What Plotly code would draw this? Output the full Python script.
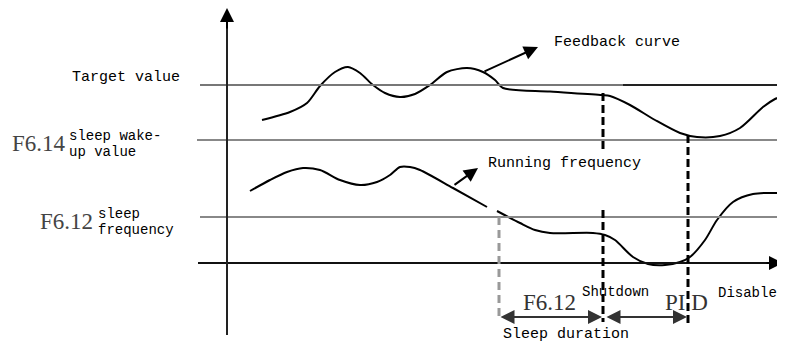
import plotly.graph_objects as go

# -------------------- dados (coordenadas do esquema, y cresce para baixo) --------------------
feedback_t = [262, 290, 307, 320, 335, 348, 360, 373, 385, 400, 415, 430, 447, 467, 483, 495, 503,
              550, 602, 610, 630, 655, 680, 697, 720, 740, 763, 775, 785]
feedback_v = [120, 112, 103, 86, 72, 67, 73, 85, 93, 97, 94, 85, 72, 68, 72, 80, 88,
              91.5, 95, 96, 105, 120, 133, 137, 136, 128, 107, 99, 95]

running_t = [250, 270, 287, 303, 320, 340, 360, 377, 390, 400, 410, 420, 453, 487, None,
             497, 520, 535, 550, 593, 605, 615, 633, 648, 665, 680, 690, 705, 717, 733, 753, 782]
running_v = [191, 180, 172, 168, 170, 180, 185, 182, 175, 167, 167, 170, 188, 207, None,
             211, 223, 230, 233, 233, 235, 240, 257, 264, 265, 262, 257, 240, 220, 202, 194, 193]

# níveis horizontais: alvo, despertar, frequência de sono, eixo do tempo
level_names = ['target', 'wake', 'sleep', 'axis']
level_y = [85, 140, 217, 263]
level_x0 = [200, 197, 200, 198]
level_x1 = [783, 780, 782, 770]

# instantes marcados: início do sono, desligamento, PID desabilitado
event_t = [499, 603, 688]

fig = go.Figure()

# linhas de nível
cores_nivel = ['#777777', '#888888', '#888888', '#111111']
for x0, x1, y, c in zip(level_x0, level_x1, level_y, cores_nivel):
    fig.add_shape(type='line', x0=x0, x1=x1, y0=y, y1=y, line=dict(color=c, width=2))
# parte direita do alvo mais escura
fig.add_shape(type='line', x0=623, x1=level_x1[0], y0=level_y[0], y1=level_y[0],
              line=dict(color='#222222', width=2))

# eixo vertical
fig.add_shape(type='line', x0=227, x1=227, y0=20, y1=335, line=dict(color='#222222', width=2))

# curvas
fig.add_trace(go.Scatter(x=feedback_t, y=feedback_v, mode='lines',
                         line=dict(color='black', width=2, shape='spline', smoothing=0.8),
                         hoverinfo='skip'))
fig.add_trace(go.Scatter(x=running_t, y=running_v, mode='lines',
                         line=dict(color='black', width=2, shape='spline', smoothing=0.8),
                         hoverinfo='skip'))

# linhas tracejadas verticais
fig.add_shape(type='line', x0=event_t[0], x1=event_t[0], y0=level_y[2], y1=318,
              line=dict(color='#999999', width=3, dash='8px,5px'))
fig.add_shape(type='line', x0=event_t[1], x1=event_t[1], y0=93, y1=153,
              line=dict(color='black', width=3, dash='8px,4px'))
fig.add_shape(type='line', x0=event_t[1], x1=event_t[1], y0=210, y1=322,
              line=dict(color='black', width=3, dash='8px,4px'))
fig.add_shape(type='line', x0=event_t[2], x1=event_t[2], y0=135, y1=326,
              line=dict(color='black', width=3, dash='8px,4px'))

# setas
def seta(x, y, ax, ay, lado='end', cor='black', w=2):
    fig.add_annotation(x=x, y=y, ax=ax, ay=ay, xref='x', yref='y', axref='x', ayref='y',
                       showarrow=True, arrowhead=2, startarrowhead=2, arrowside=lado,
                       arrowsize=1.4, startarrowsize=1.4, arrowwidth=w, arrowcolor=cor,
                       standoff=0, startstandoff=0, text='')

seta(227, 8, 227, 30)
seta(783, level_y[3], 765, level_y[3])
seta(538, 47, 483, 72)
seta(478, 168, 453, 186)
seta(602, 317, event_t[0], 317, lado='end+start', cor='#333333')
seta(687, 317, 605, 317, lado='end+start', cor='#333333')

# textos
mono = 'Liberation Mono'
serif = 'Liberation Serif'

def texto(x, y, s, fam=mono, tam=15, cor='black'):
    fig.add_annotation(x=x, y=y, xref='x', yref='y', text=s, showarrow=False,
                       xanchor='left', yanchor='middle', font=dict(family=fam, size=tam, color=cor))

texto(70, 77, 'Target value')
texto(552, 42, 'Feedback curve')
texto(486, 163, 'Running frequency')
texto(10, 143, 'F6.14', serif, 23, '#444444')
texto(67, 136, 'sleep wake-', tam=14)
texto(67, 152, 'up value', tam=14)
texto(38, 221, 'F6.12', serif, 23, '#444444')
texto(96, 214, 'sleep', tam=14)
texto(96, 230, 'frequency', tam=14)
texto(521, 302, 'F6.12', serif, 23, '#333333')
texto(580, 292, 'Shutdown', tam=14)
texto(663, 302, 'PI D', serif, 23, '#333333')
texto(716, 293, 'Disable', tam=14)
texto(501, 334, 'Sleep duration')

# a página desloca o gráfico 8px (margem do body), então compensamos no intervalo dos eixos
fig.update_layout(
    width=785, height=342, margin=dict(l=0, r=0, t=0, b=0),
    paper_bgcolor='white', plot_bgcolor='white', showlegend=False,
    xaxis=dict(range=[8, 793], visible=False),
    yaxis=dict(range=[350, 8], visible=False),
)

fig.write_html("out.html")
